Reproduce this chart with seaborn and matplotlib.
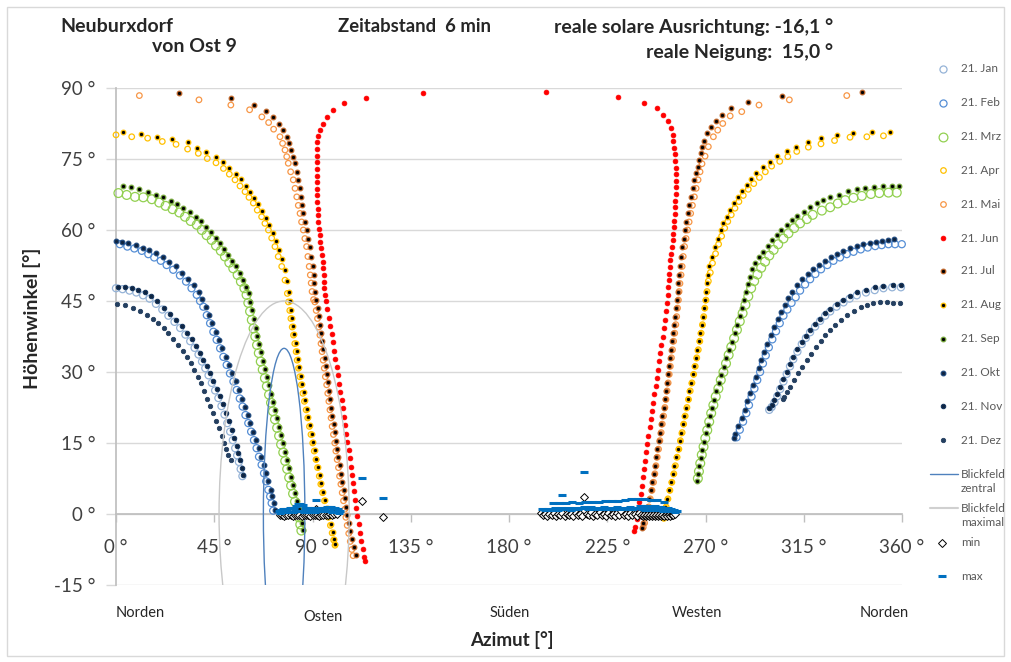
import matplotlib
matplotlib.use("Agg")
import matplotlib.pyplot as plt
import seaborn as sns
from matplotlib.patches import Ellipse, Rectangle
from matplotlib.lines import Line2D

# ---- data: (azimuth, elevation) in degrees ----
jan = [(0.0,47.7),(3.0,47.5),(6.2,47.2),(9.3,46.8),(12.4,46.2),(15.4,45.5),(18.3,44.4),(21.2,43.2),(24.0,41.9),(26.8,40.6),
       (29.4,39.3),(31.8,37.9),(34.0,36.5),(36.0,35.1),(37.8,33.7),(39.4,32.2),(40.9,30.8),(42.4,29.3),(43.9,27.7),(45.4,26.1),
       (46.9,24.5),(48.3,22.8),(49.7,21.0),(51.0,19.2),(52.3,17.4),(53.5,15.6),(54.6,13.9),(55.5,12.4),(56.3,11.0),(57.1,9.5),(57.9,8.0),
       (359.5,47.9),(355.5,47.9),(351.5,47.7),(347.5,47.3),(343.5,46.8),(339.3,46.2),(336.0,45.5),(333.2,44.7),(330.0,43.8),(327.1,42.8),
       (324.8,41.9),(322.5,40.8),(320.2,39.6),(317.9,38.4),(316.0,37.2),(314.1,35.9),(312.1,34.3),(310.2,32.7),(308.7,31.2),(307.2,29.6),
       (305.7,28.0),(304.2,26.4),(302.9,24.9),(301.6,23.6),(300.3,22.6),(299.2,22.0)]
feb = [(1.8,57.0),(5.2,56.5),(8.4,56.1),(11.8,55.6),(14.8,54.9),(17.5,54.2),(20.5,53.5),(23.2,52.6),(26.2,51.6),(29.3,50.4),
       (32.1,49.1),(34.6,47.7),(37.0,46.3),(38.5,45.0),(40.0,43.8),(41.6,42.0),(43.1,40.3),(44.6,38.5),(46.1,36.8),(47.7,35.0),
       (49.2,33.2),(50.7,31.5),(52.2,29.7),(53.8,28.0),(55.3,26.2),(56.7,24.4),(58.0,22.7),(59.3,20.9),(60.6,19.2),(61.9,17.4),
       (63.2,15.6),(64.4,13.9),(65.5,12.1),(66.7,10.4),(67.8,8.6),(68.8,6.9),(69.8,5.1),(70.6,3.7),(71.3,2.3),(72.0,0.7),
       (359.9,57.0),(356.8,57.0),(353.8,57.0),(350.7,56.8),(347.7,56.6),(344.3,56.3),(341.1,55.9),(337.8,55.4),(334.7,54.9),(331.6,54.2),
       (328.6,53.5),(325.8,52.6),(322.9,51.7),(320.3,50.7),(317.9,49.6),(315.6,48.5),(313.3,47.2),(311.3,45.8),(309.4,44.6),(307.5,43.2),
       (305.7,41.9),(304.0,40.3),(302.3,38.6),(300.6,36.9),(299.0,35.2),(297.6,33.5),(296.3,31.8),(295.0,30.0),(293.7,28.3),(292.4,26.5),
       (291.1,24.8),(289.9,23.0),(288.7,21.3),(287.2,19.5),(285.7,17.8),(284.2,16.2)]
mrz = [(1.1,67.8),(4.9,67.4),(8.7,67.0),(12.5,66.9),(16.4,66.5),(19.8,65.8),(22.7,65.1),(25.9,64.4),(29.0,63.7),(31.6,62.8),
       (34.2,61.9),(37.0,61.1),(39.3,60.0),(41.5,58.9),(43.8,57.9),(45.8,56.7),(48.0,55.6),(49.9,54.4),(51.9,53.1),(53.7,51.9),
       (55.7,50.5),(57.2,49.1),(58.8,47.7),(59.8,46.3),(60.6,44.6),(61.4,42.8),(62.2,41.0),(63.0,39.2),(63.8,37.5),(64.6,35.7),
       (65.4,34.0),(66.3,32.2),(67.2,30.5),(68.2,28.7),(69.1,27.0),(70.1,25.2),(71.0,23.5),(71.9,21.7),(72.8,20.0),(73.8,18.2),
       (74.7,16.5),(75.6,14.7),(76.6,13.0),(77.5,11.2),(78.4,9.5),(79.3,7.7),(80.2,6.0),(81.1,4.3),(82.0,2.6),(82.9,0.9),
       (83.7,-0.7),(84.4,-2.2),(84.9,-3.5),
       (357.6,67.9),(353.8,67.9),(349.6,67.8),(345.8,67.6),(341.6,67.2),(337.8,66.8),(334.0,66.3),(330.6,65.6),(327.1,64.8),(323.3,64.1),
       (319.1,63.2),(316.4,62.3),(313.3,61.4),(310.6,60.4),(308.0,59.3),(305.7,58.2),(303.3,57.0),(301.2,55.8),(299.2,54.6),(297.3,53.3),
       (295.5,52.0),(293.8,50.6),(292.3,49.2),(290.9,47.7),(289.6,46.0),(288.3,44.2),(287.0,42.4),(285.7,40.7),(284.4,38.9),(283.1,37.1),
       (281.8,35.3),(280.6,33.6),(279.4,31.8),(278.2,30.0),(277.0,28.3),(275.9,26.5),(274.7,24.8),(273.6,23.0),(272.6,21.3),(271.7,19.5),
       (270.8,17.7),(269.9,16.0),(269.1,14.2),(268.3,12.5),(267.6,10.7),(267.0,9.0),(266.5,7.5)]
apr = [(0.0,80.1),(7.2,79.7),(14.5,79.4),(21.2,78.7),(27.5,78.1),(32.8,77.1),(37.7,76.2),(41.8,75.1),(45.8,74.2),(49.2,73.0),
       (51.9,71.8),(54.5,70.6),(56.8,69.3),(59.1,68.1),(60.9,66.9),(62.9,65.7),(64.7,64.2),(66.7,62.8),(68.2,61.4),(69.8,60.0),
       (71.3,58.3),(72.8,56.5),(74.3,54.4),(75.9,52.3),(77.4,49.4),(78.5,46.6),(79.0,44.8),(79.6,43.0),(80.1,41.3),(80.7,39.5),
       (81.3,37.8),(81.9,36.0),(82.5,34.3),(83.0,32.5),(83.6,30.8),(84.2,29.0),(84.9,27.3),(85.6,25.5),(86.3,23.8),(87.1,22.0),
       (87.8,20.3),(88.6,18.5),(89.3,16.8),(90.1,15.0),(90.8,13.3),(91.6,11.5),(92.3,9.8),(93.1,8.0),(93.8,6.3),(94.6,4.5),
       (95.5,2.8),(96.4,1.0),(97.3,-0.7),(98.2,-2.4),(99.0,-4.0),(99.7,-5.5),(100.3,-6.6),
       (351.5,79.9),(343.9,79.7),(336.2,79.6),(329.1,78.9),(322.9,78.2),(317.1,77.5),(311.8,76.6),(307.7,75.5),(304.0,74.5),(300.3,73.5),
       (297.4,72.3),(294.7,71.1),(292.1,69.8),(289.6,68.6),(287.3,67.3),(285.3,66.0),(283.5,64.6),(281.8,63.2),(280.2,61.8),(278.8,60.4),
       (277.4,58.7),(276.0,57.0),(274.6,55.0),(273.2,53.0),(272.2,51.0),(271.3,49.2),(270.7,47.0),(270.2,45.2),(269.7,43.5),(269.2,41.7),
       (268.6,40.0),(268.0,38.2),(267.4,36.5),(266.7,34.7),(266.0,33.0),(265.3,31.2),(264.6,29.5),(263.8,27.7),(263.0,26.0),(262.2,24.2),
       (261.5,22.5),(260.7,20.7),(260.0,19.0),(259.3,17.2),(258.5,15.5),(257.8,13.7),(257.0,12.0),(256.2,10.2),(255.5,8.5),(254.6,6.7),
       (253.7,5.0),(252.8,3.2),(252.0,1.5),(251.4,0.0),(251.0,-0.9)]
mai = [(10.7,88.4),(38.0,87.5),(52.6,86.4),(61.2,85.4),(66.8,83.9),(69.9,82.7),(72.2,81.3),(75.1,79.7),(76.3,78.3),(77.4,76.9),
       (78.2,75.5),(78.9,74.1),(80.0,72.3),(81.2,70.6),(82.0,68.8),(82.8,67.0),(83.5,65.2),(84.3,63.5),(85.0,61.7),(85.8,60.0),
       (86.5,58.2),(87.3,56.5),(87.9,54.4),(88.5,52.3),(89.0,50.5),(89.4,48.8),(89.8,47.0),(90.5,45.3),(91.1,44.8),(91.7,43.0),
       (92.3,41.3),(92.9,39.5),(93.4,37.8),(93.9,36.0),(94.4,34.3),(94.9,32.5),(95.4,30.8),(95.9,29.0),(96.5,27.3),(97.0,25.5),
       (97.5,23.8),(98.0,22.0),(98.5,20.3),(99.0,18.5),(99.6,16.8),(100.2,15.0),(100.7,13.3),(101.3,11.5),(101.9,9.8),(102.4,8.0),
       (103.0,6.3),(103.6,4.5),(104.2,2.8),(104.8,1.0),(105.3,-0.7),(105.9,-2.4),(106.6,-4.1),(107.3,-5.8),(108.0,-7.5),(108.6,-8.8),
       (334.7,88.4),(308.4,87.5),(294.5,86.4),(286.6,85.0),(281.3,84.1),(277.9,82.5),(275.6,81.1),(273.6,79.7),(271.3,77.6),(269.8,75.6),
       (268.4,74.0),(267.5,72.3),(266.6,70.6),(265.7,68.8),(264.9,67.0),(264.0,65.2),(263.2,63.5),(262.5,61.7),(261.8,60.0),(261.1,58.2),
       (260.4,56.5),(259.8,54.4),(259.3,52.3),(258.8,50.5),(258.3,48.7),(257.9,47.0),(257.6,45.2),(257.2,43.5),(256.8,41.7),(256.4,40.0),
       (255.9,38.2),(255.4,36.5),(254.9,34.7),(254.4,33.0),(253.9,31.2),(253.4,29.5),(252.9,27.7),(252.4,26.0),(251.9,24.2),(251.4,22.5),
       (250.8,20.7),(250.2,19.0),(249.7,17.2),(249.1,15.5),(248.5,13.7),(247.9,12.0),(247.3,10.2),(246.8,8.5),(246.2,6.7),(245.5,5.0),
       (244.7,3.2),(244.0,1.5),(243.1,-0.2),(242.1,-1.9),(241.5,-2.8)]
jun = [(140.8,89.0),(114.5,87.8),(104.4,86.8),(99.5,85.4),(96.8,83.8),(94.7,82.5),(93.4,81.1),(92.7,79.9),(92.2,78.5),(92.0,77.1),
       (91.9,75.7),(91.9,74.3),(91.9,72.9),(91.9,71.5),(91.9,70.1),(91.9,68.7),(92.0,67.3),(92.1,65.9),(92.3,64.5),(92.5,63.1),
       (92.7,61.7),(93.0,60.3),(93.3,58.9),(93.6,57.5),(93.9,56.1),(94.3,54.7),(94.6,53.3),(94.9,51.9),(95.1,50.5),(95.2,49.1),
       (95.3,47.7),(95.5,46.3),(96.0,45.0),(96.7,43.3),(97.5,41.5),(98.2,39.8),(98.8,38.0),(99.3,36.3),(99.9,34.5),(100.4,32.8),
       (101.0,31.0),(101.6,29.3),(102.2,27.5),(102.7,25.8),(103.3,24.0),(103.9,22.3),(104.5,20.5),(105.0,18.8),(105.5,17.0),(106.0,15.3),
       (106.5,13.5),(107.0,11.8),(107.5,10.0),(108.0,8.3),(108.4,6.5),(108.8,4.8),(109.4,3.0),(110.0,1.3),(110.5,-0.5),(111.1,-2.2),
       (111.8,-4.0),(112.4,-5.7),(113.0,-7.4),(113.6,-9.0),(114.2,-9.9),
       (197.0,89.2),(230.0,88.2),(242.0,86.9),(247.7,85.7),(250.7,84.3),(252.7,83.0),(254.0,81.5),(255.0,80.1),(255.3,78.8),(255.7,77.4),
       (256.0,76.0),(256.2,74.6),(256.4,73.2),(256.4,71.8),(256.4,70.4),(256.4,69.0),(256.3,67.6),(256.2,66.2),(256.1,64.8),(255.9,63.4),
       (255.7,62.0),(255.5,60.6),(255.2,59.2),(254.9,57.8),(254.5,56.4),(254.2,55.0),(253.9,53.6),(253.6,52.2),(253.4,50.8),(253.2,49.4),
       (253.0,48.0),(252.8,46.3),(252.4,44.5),(252.0,42.8),(251.5,41.0),(250.9,39.3),(250.4,37.5),(249.8,35.8),(249.3,34.0),(248.8,32.3),
       (248.3,30.5),(247.8,28.8),(247.2,27.0),(246.6,25.3),(246.1,23.5),(245.5,21.8),(245.0,20.0),(244.4,18.3),(243.8,16.5),(243.3,14.8),
       (242.8,13.0),(242.3,11.3),(241.8,9.5),(241.4,7.8),(240.9,6.0),(240.4,4.3),(239.7,2.5),(239.1,0.8),(238.4,-1.0),(237.7,-2.7),(237.3,-3.6)]
jul = [(28.9,88.9),(52.6,87.8),(63.0,86.4),(68.7,85.1),(71.9,83.9),(74.5,82.5),(76.5,81.1),(78.2,79.7),(79.1,78.3),(80.0,76.9),
       (81.0,75.5),(82.0,74.1),(82.8,72.3),(83.5,70.6),(84.1,68.8),(84.7,67.0),(85.2,65.2),(85.8,63.5),(86.6,61.7),(87.4,60.0),
       (88.1,58.2),(88.9,56.5),(89.5,54.4),(90.1,52.3),(90.5,50.5),(90.9,48.8),(91.3,47.0),(91.7,45.3),(92.3,43.5),(92.9,41.8),
       (93.5,40.0),(94.0,38.3),(94.5,36.5),(95.0,34.8),(95.5,33.0),(96.0,31.3),(96.6,29.5),(97.1,27.8),(97.6,26.0),(98.1,24.3),
       (98.6,22.5),(99.1,20.8),(99.7,19.0),(100.2,17.3),(100.8,15.5),(101.3,13.8),(101.9,12.0),(102.5,10.3),(103.0,8.5),(103.6,6.8),
       (104.2,5.0),(104.8,3.3),(105.4,1.5),(106.0,-0.2),(106.6,-1.9),(107.3,-3.6),(108.0,-5.3),(108.8,-7.0),(109.8,-8.7),
       (341.6,89.1),(305.2,88.3),(289.3,87.1),(281.7,85.7),(277.4,84.4),(274.7,83.1),(272.6,81.8),(270.6,80.4),(269.3,78.8),(268.6,77.5),
       (267.9,76.2),(267.2,74.8),(266.4,73.4),(265.7,72.0),(264.9,70.6),(264.1,68.8),(263.4,67.0),(262.6,65.2),(261.9,63.5),(261.2,61.7),
       (260.6,60.0),(260.0,58.2),(259.4,56.5),(258.9,54.4),(258.4,52.3),(258.0,50.5),(257.6,48.7),(257.2,47.0),(257.0,45.2),(256.6,43.5),
       (256.2,41.7),(255.8,40.0),(255.3,38.2),(254.8,36.5),(254.3,34.7),(253.8,33.0),(253.3,31.2),(252.8,29.5),(252.3,27.7),(251.8,26.0),
       (251.3,24.2),(250.8,22.5),(250.2,20.7),(249.6,19.0),(249.1,17.2),(248.5,15.5),(247.9,13.7),(247.3,12.0),(246.7,10.2),(246.2,8.5),
       (245.6,6.7),(244.9,5.0),(244.1,3.2),(243.4,1.5),(242.5,-0.2),(241.5,-1.9),(240.8,-3.0)]
aug = [(3.1,80.6),(11.3,80.3),(18.9,79.7),(25.5,79.2),(32.9,78.5),(37.0,77.4),(41.2,76.4),(45.6,75.4),(49.1,74.3),(51.9,73.0),
       (55.0,71.8),(57.2,70.7),(59.5,69.4),(61.5,68.1),(63.3,66.8),(65.2,65.4),(67.0,64.0),(68.7,62.5),(70.2,61.0),(71.7,59.4),
       (73.1,57.7),(74.6,55.8),(76.0,53.8),(77.2,51.5),(78.3,49.2),(79.1,46.9),(79.5,45.0),(80.0,43.2),(80.6,41.5),(81.1,39.7),
       (81.7,38.0),(82.3,36.2),(82.8,34.5),(83.4,32.7),(84.0,31.0),(84.6,29.2),(85.2,27.5),(85.9,25.7),(86.6,24.0),(87.3,22.2),
       (88.1,20.5),(88.8,18.7),(89.6,17.0),(90.3,15.2),(91.1,13.5),(91.8,11.7),(92.6,10.0),(93.3,8.2),(94.1,6.5),(94.9,4.7),
       (95.7,3.0),(96.6,1.2),(97.5,-0.5),(98.4,-2.2),(99.2,-3.8),(99.9,-5.3),(100.4,-6.4),
       (354.6,80.6),(346.1,80.6),(337.7,80.4),(330.1,80.1),(322.9,79.4),(317.1,78.5),(311.5,77.6),(307.2,76.7),(302.9,75.6),(299.6,74.4),
       (296.2,73.3),(293.1,72.0),(290.9,70.7),(288.9,69.5),(286.6,68.2),(284.8,67.0),(283.1,65.6),(281.3,64.2),(279.7,62.8),(278.2,61.4),
       (277.0,60.0),(275.6,58.2),(274.4,56.5),(272.8,54.4),(271.8,52.3),(271.2,50.5),(270.7,48.7),(270.3,47.0),(269.8,45.2),(269.3,43.5),
       (268.8,41.7),(268.2,40.0),(267.6,38.2),(267.0,36.5),(266.3,34.7),(265.6,33.0),(264.9,31.2),(264.2,29.5),(263.4,27.7),(262.6,26.0),
       (261.8,24.2),(261.1,22.5),(260.3,20.7),(259.6,19.0),(258.9,17.2),(258.1,15.5),(257.4,13.7),(256.6,12.0),(255.8,10.2),(255.1,8.5),
       (254.2,6.7),(253.3,5.0),(252.4,3.2),(251.6,1.5),(251.0,0.0),(250.6,-0.9)]
sep = [(3.1,69.2),(6.7,69.0),(10.7,68.6),(14.5,68.1),(18.1,67.5),(21.6,67.0),(25.0,66.2),(28.0,65.4),(30.8,64.6),(33.9,63.7),
       (36.6,62.8),(38.9,61.8),(41.2,60.7),(43.5,59.5),(45.6,58.4),(47.6,57.2),(49.6,56.0),(51.4,54.7),(53.3,53.5),(55.0,52.3),
       (56.8,50.9),(58.3,49.4),(59.6,48.0),(60.9,46.6),(61.6,44.8),(62.4,43.0),(63.2,41.2),(64.0,39.4),(64.8,37.7),(65.6,35.9),
       (66.4,34.2),(67.3,32.4),(68.2,30.7),(69.2,28.9),(70.1,27.2),(71.1,25.4),(72.0,23.7),(72.9,21.9),(73.8,20.2),(74.8,18.4),
       (75.7,16.7),(76.6,14.9),(77.6,13.2),(78.5,11.4),(79.4,9.7),(80.3,7.9),(81.2,6.2),(82.1,4.5),(83.0,2.8),(83.8,1.1),
       (84.6,-0.5),(85.2,-2.0),(85.6,-3.3),
       (358.8,69.4),(355.3,69.3),(351.2,69.2),(347.0,69.0),(343.0,68.8),(339.3,68.7),(335.1,68.2),(331.1,67.5),(327.1,67.0),(324.0,66.3),
       (320.9,65.6),(317.9,64.8),(314.9,63.9),(312.1,63.0),(309.5,62.1),(307.2,61.1),(304.6,60.0),(302.6,58.9),(300.3,57.9),(298.5,56.7),
       (296.5,55.4),(294.7,54.4),(292.7,53.0),(291.2,51.8),(290.2,50.1),(289.4,48.5),(288.6,47.0),(287.8,45.3),(286.9,43.5),(285.8,41.8),
       (284.6,40.0),(283.3,38.2),(282.0,36.4),(280.8,34.7),(279.6,32.9),(278.4,31.1),(277.2,29.4),(276.1,27.6),(274.9,25.9),(273.8,24.1),
       (272.8,22.4),(271.9,20.6),(271.0,18.8),(270.1,17.1),(269.3,15.3),(268.5,13.6),(267.8,11.8),(267.2,10.1),(266.6,8.4),(266.2,7.0)]
okt = [(0.0,57.7),(2.6,57.5),(5.6,57.2),(9.2,56.8),(12.2,56.3),(15.3,55.8),(18.3,55.1),(21.3,54.4),(24.4,53.3),(27.5,52.3),
       (30.3,51.0),(33.1,49.7),(35.7,48.4),(38.0,47.0),(39.5,45.5),(41.0,43.8),(42.6,42.0),(44.1,40.3),(45.6,38.5),(47.1,36.8),
       (48.7,35.0),(50.2,33.2),(51.7,31.5),(53.2,29.7),(54.8,28.0),(56.3,26.2),(57.7,24.4),(59.0,22.7),(60.3,20.9),(61.6,19.2),
       (62.9,17.4),(64.2,15.6),(65.4,13.9),(66.5,12.1),(67.7,10.4),(68.8,8.6),(69.8,6.9),(70.8,5.1),(71.6,3.7),(72.3,2.3),(72.9,0.9),
       (356.4,58.0),(353.4,57.9),(350.7,57.7),(348.1,57.5),(345.4,57.3),(342.3,57.0),(339.3,56.6),(336.2,56.1),(333.2,55.6),(330.1,54.9),
       (327.3,54.2),(324.8,53.5),(322.1,52.6),(319.4,51.7),(316.8,50.6),(314.4,49.6),(312.1,48.4),(309.8,47.0),(308.0,45.6),(306.3,44.2),
       (304.6,42.7),(303.0,41.2),(301.4,39.5),(299.8,37.8),(298.3,36.0),(296.9,34.2),(295.6,32.5),(294.3,30.8),(293.0,29.0),(291.7,27.3),
       (290.4,25.5),(289.2,23.8),(288.0,22.0),(286.6,20.3),(285.1,18.5),(283.7,16.8),(283.0,16.0)]
nov = [(1.0,48.0),(4.1,47.9),(7.2,47.7),(10.2,47.3),(13.3,46.8),(16.2,46.0),(19.0,44.9),(21.9,43.6),(24.7,42.2),(27.5,40.9),
       (30.1,39.7),(32.5,38.3),(34.7,36.9),(36.7,35.5),(38.5,34.1),(40.0,32.6),(41.5,31.2),(43.1,29.7),(44.6,28.1),(46.1,26.5),
       (47.6,24.9),(49.0,23.2),(50.4,21.4),(51.7,19.6),(53.0,17.8),(54.2,16.0),(55.3,14.3),(56.1,12.8),(56.9,11.4),(57.6,9.8),(58.3,8.3),
       (359.6,48.4),(356.0,48.4),(351.5,48.2),(347.5,47.9),(343.5,47.4),(339.3,46.8),(336.0,46.1),(333.2,45.3),(330.0,44.4),(327.1,43.4),
       (324.8,42.4),(322.5,41.3),(320.2,40.1),(317.9,38.9),(316.0,37.7),(314.1,36.4),(312.1,34.8),(310.2,33.2),(308.7,31.7),(307.2,30.1),
       (305.7,28.5),(304.2,26.9),(302.9,25.4),(301.6,24.1),(300.3,23.1),(299.3,22.4)]
dez = [(0.3,44.4),(4.0,44.1),(7.9,43.5),(11.0,42.8),(14.0,42.0),(17.0,41.2),(19.4,40.3),(22.0,39.3),(24.0,38.2),(26.3,37.0),
       (28.5,35.7),(30.5,34.5),(32.4,33.2),(34.2,31.8),(35.9,30.4),(37.4,29.0),(38.9,27.6),(40.4,26.0),(41.8,24.4),(43.2,22.8),
       (44.6,21.3),(45.9,19.7),(47.2,18.1),(48.4,16.5),(49.6,14.9),(50.5,13.7),(51.4,12.5),(52.7,11.4),
       (359.1,44.5),(356.0,44.6),(353.0,44.7),(350.0,44.7),(346.9,44.6),(344.0,44.2),(341.0,43.7),(337.8,42.9),(334.7,42.0),(332.0,41.0),
       (329.3,39.9),(327.0,38.9),(324.8,37.8),(322.7,36.6),(320.6,35.3),(318.5,33.9),(316.4,32.5),(314.4,31.1),(312.5,29.7),(310.6,28.3),
       (308.7,26.9),(307.3,25.8),(306.1,24.8),(305.4,24.3)]

# field of view (Blickfeld): centre azimuth/elevation and half widths
fov_center = (77.0, 0.0)
fov_central_half = (9.5, 35.0)
fov_max_half = (29.8, 45.0)

min_pts = [(75,-0.3),(76,-0.2),(77,-0.4),(78,-0.2),(79,-0.3),(80,-0.2),(81,-0.4),(82,-0.2),(83,-0.3),(84,-0.2),
           (85,-0.4),(86,-0.2),(87,-0.3),(88,-0.2),(89,-0.4),(90,-0.2),(91,-0.3),(92,-0.2),(93,-0.4),(94,-0.2),
           (95,-0.3),(96,-0.2),(97,-0.3),(98,-0.1),(99,-0.2),(100,0.0),(101,0.0),(91.7,1.1),(112.8,2.8),(122.3,-0.7),
           (194.5,0.3),(195.5,-0.3),(196.5,0.1),(197.5,-0.4),(198.5,0.0),(199.5,-0.3),(200.5,0.2),(201.5,-0.4),(202.5,0.0),(203.5,-0.3),
           (204.5,0.3),(205.5,-0.4),(206.5,0.1),(207.5,-0.3),(208.5,0.0),(209.5,-0.4),(210.5,0.2),(211.5,-0.3),(212.5,0.1),(213.5,-0.4),
           (214.3,3.6),(215.5,0.0),(216.5,-0.3),(217.5,0.4),(218.5,-0.4),(219.5,0.1),(220.5,-0.3),(221.5,0.5),(222.5,-0.2),(223.5,0.0),
           (224.5,-0.4),(225.5,0.3),(226.5,-0.3),(227.5,0.1),(228.5,-0.4),(229.5,0.2),(230.5,-0.3),(231.5,0.6),(232.5,-0.2),(233.5,0.1),
           (234.5,-0.4),(235.5,0.3),(236.5,-0.3),(237.5,0.0),(238.5,-0.4),(239.5,0.2),(240.5,-0.3),(241.2,-0.5),(241.9,-0.2),(242.6,-0.5),
           (243.3,-0.3),(244.0,-0.5),(244.7,-0.2),(245.4,-0.5),(246.1,-0.3),(246.8,-0.5),(247.5,-0.2),(248.2,-0.5),(248.9,-0.3),(249.6,-0.5),
           (250.3,-0.2),(251.0,-0.5),(251.7,-0.3),(252.4,-0.5),(253.1,-0.2),(253.8,-0.4),(254.5,-0.2),(255.2,-0.3),(255.9,-0.1)]
max_pts = [(74.5,0.6),(75.5,0.8),(76.5,1.0),(77.5,1.0),(78.5,1.1),(79.5,1.2),(80.5,1.2),(81.5,1.3),(82.5,1.7),(83.5,2.1),
           (84.5,2.1),(85.5,1.9),(86.5,1.3),(87.5,1.2),(88.5,1.0),(89.5,1.2),(90.5,1.3),(91.5,1.1),(92.5,1.1),(93.5,1.2),
           (94.5,1.3),(95.5,1.3),(96.5,1.4),(97.5,1.4),(98.5,1.5),(99.5,1.3),(100.5,1.2),(101.5,1.0),(102.5,0.7),
           (75,0.3),(76,0.4),(77,0.4),(78,0.5),(79,0.5),(80,0.5),(81,0.5),(82,0.6),(83,0.6),(84,0.6),(85,0.6),(86,0.5),
           (87,0.5),(88,0.5),(89,0.5),(90,0.5),(91,0.5),(92,0.6),(93,0.6),(94,0.6),(95,0.6),(96,0.6),(97,0.6),(98,0.6),
           (99,0.5),(100,0.5),(101,0.4),(102,0.3),(91.7,3.0),(112.8,7.7),(122.3,3.4),
           (195,1.0),(196.5,0.8),(198,1.1),(199.5,0.9),(201,1.2),(202.5,0.9),(204,1.3),(205.5,1.0),(207,1.2),(208.5,0.9),
           (210,1.3),(211.5,1.0),(213,1.2),(214.5,1.5),(216,1.1),(217.5,1.4),(219,1.0),(220.5,1.3),(222,1.1),(223.5,1.4),
           (225,1.0),(226.5,1.3),(228,1.1),(229.5,1.4),(231,1.0),(232.5,1.3),(234,1.1),(235.5,1.4),(237,1.0),(238.5,1.3),
           (240,1.6),(240.7,1.0),(241.4,1.7),(242.1,0.9),(242.8,1.6),(243.5,1.0),(244.2,1.7),(244.9,0.8),(245.6,1.5),(246.3,1.0),
           (247,1.6),(247.7,0.8),(248.4,1.4),(249.1,0.9),(249.8,1.5),(250.5,0.7),(251.2,1.3),(251.9,0.8),(252.6,1.2),(253.3,0.6),
           (254,1.1),(254.7,0.6),(255.4,0.9),(256.1,0.5),(256.8,0.6),
           (200,2.3),(203,2.4),(206,2.3),(209,2.5),(212,2.4),(215,2.5),(218,2.6),(221,2.6),(224,2.7),(227,2.7),(230,2.8),
           (233,3.0),(236,3.1),(239,3.1),(242,3.2),(245,3.0),(248,2.9),(251,2.6),(214.3,8.9),(204.5,4.0)]

x_ticks = [0, 45, 90, 135, 180, 225, 270, 315, 360]
y_ticks = [-15, 0, 15, 30, 45, 60, 75, 90]
directions = [("Norden", 11, 613), ("Osten", 95, 617), ("Süden", 180.5, 613), ("Westen", 266, 613), ("Norden", 352, 613)]

# marker styles: label, data, marker, size, face, edge, linewidth
series = [
    ("21. Jan", jan, "o", 26, "none", "#95B3D7", 0.9),
    ("21. Feb", feb, "o", 26, "none", "#558ED5", 0.9),
    ("21. Mrz", mrz, "o", 40, "none", "#92D050", 0.9),
    ("21. Apr", apr, "o", 16, "none", "#FFC000", 0.9),
    ("21. Mai", mai, "o", 16, "none", "#F79646", 0.9),
    ("21. Jun", jun, "o", 12, "#FF0000", "#FF0000", 0.5),
    ("21. Jul", jul, "o", 11, "#000000", "#C0662A", 0.9),
    ("21. Aug", aug, "o", 11, "#000000", "#FFC000", 0.9),
    ("21. Sep", sep, "o", 11, "#000000", "#77A83C", 0.9),
    ("21. Okt", okt, "o", 11, "#0F2440", "#1F497D", 0.9),
    ("21. Nov", nov, "o", 10, "#0F2440", "#17375E", 0.8),
    ("21. Dez", dez, "o", 10, "#243F60", "#243F60", 0.6),
]

sns.set_theme(style="white")
plt.rcParams["font.family"] = ["Lato", "DejaVu Sans"]

W, H = 1011, 662
fig = plt.figure(figsize=(W / 100, H / 100), dpi=100)
ax = fig.add_axes([116 / W, 1 - 585 / H, (902 - 116) / W, (585 - 88) / H])

for i, (lab, pts, mk, s, fc, ec, lw) in enumerate(series):
    sns.scatterplot(x=[p[0] for p in pts], y=[p[1] for p in pts], ax=ax, marker=mk, s=s,
                    facecolor=fc, edgecolor=ec, linewidth=lw, clip_on=False, zorder=3 + i * 0.1)

ax.add_patch(Ellipse(fov_center, 2 * fov_central_half[0], 2 * fov_central_half[1],
                     fill=False, edgecolor="#4F81BD", linewidth=1.0, zorder=5))
ax.add_patch(Ellipse(fov_center, 2 * fov_max_half[0], 2 * fov_max_half[1],
                     fill=False, edgecolor="#C8C8C8", linewidth=1.0, zorder=5))

sns.scatterplot(x=[p[0] for p in min_pts], y=[p[1] for p in min_pts], ax=ax, marker="D", s=16,
                facecolor="white", edgecolor="black", linewidth=0.7, clip_on=False, zorder=6)
sns.scatterplot(x=[p[0] for p in max_pts], y=[p[1] for p in max_pts], ax=ax, marker="_", s=34,
                color="#0070C0", linewidth=2.2, clip_on=False, zorder=7)

ax.set_xlim(0, 360)
ax.set_ylim(-15, 90)
ax.set_xticks(x_ticks)
ax.set_xticklabels([f"{t} °" for t in x_ticks])
ax.set_yticks(y_ticks)
ax.set_yticklabels([f"{t} °" for t in y_ticks])
ax.grid(axis="y", color="#D9D9D9", linewidth=1.0)
ax.grid(axis="x", visible=False)
ax.set_axisbelow(True)
for sp in ["top", "right"]:
    ax.spines[sp].set_visible(False)
ax.spines["left"].set_color("#BFBFBF")
ax.spines["bottom"].set_color("#BFBFBF")
ax.spines["bottom"].set_position(("data", 0))
ax.tick_params(axis="x", direction="out", length=6, width=1, color="#BFBFBF", pad=12,
               labelsize=13.5, labelcolor="#404040", bottom=True)
ax.tick_params(axis="y", direction="out", length=7, width=1, color="#D9D9D9", pad=8,
               labelsize=13.5, labelcolor="#404040", left=True)
ax.set_xlabel("")
ax.set_ylabel("")

# titles
fig.text(60 / W, 1 - 27 / H, "Neuburxdorf", fontsize=14, fontweight="bold", va="center", ha="left")
fig.text(152 / W, 1 - 47 / H, "von Ost 9", fontsize=14, fontweight="bold", va="center", ha="left")
fig.text(338 / W, 1 - 27 / H, "Zeitabstand  6 min", fontsize=13.3, fontweight="bold", va="center", ha="left")
fig.text(833 / W, 1 - 27 / H, "reale solare Ausrichtung: -16,1 °", fontsize=14, fontweight="bold", va="center", ha="right")
fig.text(833 / W, 1 - 52 / H, "reale Neigung:  15,0 °", fontsize=14, fontweight="bold", va="center", ha="right")
fig.text(32 / W, 1 - 318 / H, "Höhenwinkel [°]", fontsize=14, fontweight="bold", rotation=90, va="center", ha="center")
fig.text(512 / W, 1 - 640 / H, "Azimut [°]", fontsize=13.5, fontweight="bold", va="center", ha="center")
for name, az, ypx in directions:
    xpx = 116 + az * (902 - 116) / 360
    fig.text(xpx / W, 1 - ypx / H, name, fontsize=10.5, color="#262626", va="center", ha="center")

# legend, drawn entry by entry
leg_y = [69, 103, 137, 170, 204, 238, 271, 305, 339, 373, 406, 440]
for (lab, pts, mk, s, fc, ec, lw), yy in zip(series, leg_y):
    fig.add_artist(Line2D([943 / W], [1 - yy / H], marker=mk, markersize=s ** 0.5,
                          markerfacecolor=fc, markeredgecolor=ec, markeredgewidth=lw, linestyle="none"))
    fig.text(961 / W, 1 - yy / H, lab, fontsize=8.5, color="#595959", va="center", ha="left")
fig.add_artist(Line2D([930 / W, 958 / W], [1 - 474 / H] * 2, color="#4F81BD", linewidth=1.0))
fig.text(961 / W, 1 - 474 / H, "Blickfeld", fontsize=8.5, color="#595959", va="center", ha="left")
fig.text(961 / W, 1 - 489 / H, "zentral", fontsize=8.5, color="#595959", va="center", ha="left")
fig.add_artist(Line2D([930 / W, 958 / W], [1 - 508 / H] * 2, color="#D0D0D0", linewidth=1.5))
fig.text(961 / W, 1 - 508 / H, "Blickfeld", fontsize=8.5, color="#595959", va="center", ha="left")
fig.text(961 / W, 1 - 523 / H, "maximal", fontsize=8.5, color="#595959", va="center", ha="left")
fig.add_artist(Line2D([942 / W], [1 - 543 / H], marker="D", markersize=4, markerfacecolor="white",
                      markeredgecolor="black", markeredgewidth=0.7, linestyle="none"))
fig.text(961 / W, 1 - 543 / H, "min", fontsize=8.5, color="#595959", va="center", ha="left")
fig.add_artist(Line2D([942 / W], [1 - 576 / H], marker="_", markersize=6, markeredgecolor="#0070C0",
                      markeredgewidth=2.2, linestyle="none"))
fig.text(961 / W, 1 - 576 / H, "max", fontsize=8.5, color="#595959", va="center", ha="left")

# outer chart border
fig.add_artist(Rectangle((7 / W, 1 - 656 / H), (1004 - 7) / W, (656 - 7) / H, transform=fig.transFigure,
                         fill=False, edgecolor="#D9D9D9", linewidth=1.0))

fig.savefig("out.png", dpi=100)
